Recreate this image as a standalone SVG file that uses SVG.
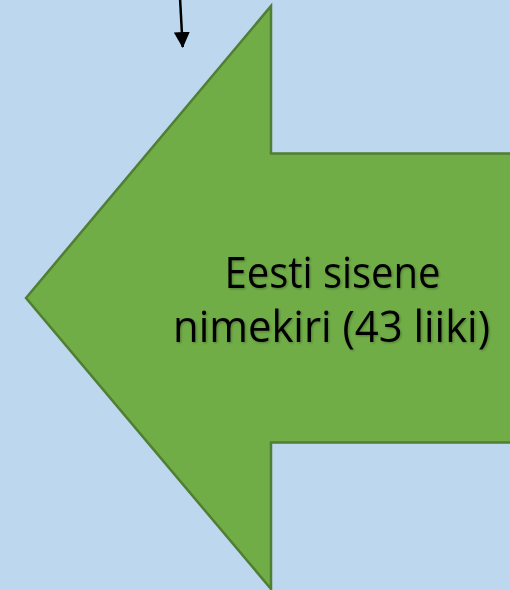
<svg xmlns="http://www.w3.org/2000/svg" width="510" height="590" viewBox="0 0 510 590">
  <defs>
    <style>
      .bg { fill: #BDD7EE; }
      .big-arrow { fill: #70AD47; stroke: #507E32; stroke-width: 2.5; stroke-linejoin: miter; }
      .label { font-family: "Open Sans", "Liberation Sans", sans-serif; font-size: 43px; fill: #000000; text-anchor: middle; }
      .conn { stroke: #000000; stroke-width: 2.5; fill: none; }
    </style>
    <marker id="head" viewBox="0 0 16 16" refX="15" refY="8" markerWidth="16" markerHeight="16" markerUnits="userSpaceOnUse" orient="auto">
      <path d="M0,0 L16,8 L0,16 Z" fill="#000000"/>
    </marker>
    <filter id="shadow" x="-10%" y="-20%" width="120%" height="140%">
      <feDropShadow dx="1.2" dy="1.2" stdDeviation="1.2" flood-color="#000000" flood-opacity="0.25"/>
    </filter>
  </defs>
  <rect class="bg" x="0" y="0" width="510" height="590"/>
  <g id="node-list">
    <polygon class="big-arrow" points="26,298 271,6 271,153.5 515,153.5 515,442.5 271,442.5 271,589"/>
    <g filter="url(#shadow)">
      <text class="label" x="332.5" y="288" textLength="216" lengthAdjust="spacingAndGlyphs">Eesti sisene</text>
      <text class="label" x="331.5" y="342" textLength="317" lengthAdjust="spacingAndGlyphs">nimekiri (43 liiki)</text>
    </g>
  </g>
  <g id="connectors">
    <line class="conn" x1="180" y1="-2" x2="182.7" y2="47" marker-end="url(#head)"/>
  </g>
</svg>
